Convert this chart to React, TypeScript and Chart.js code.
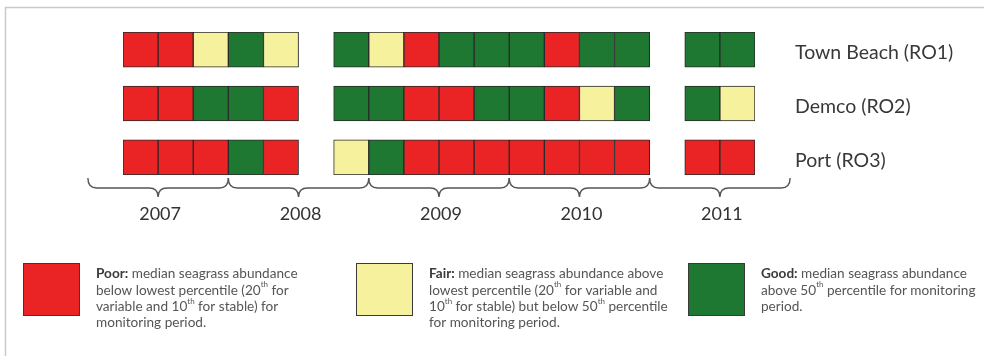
import React, { useEffect, useRef } from 'react';
import { Chart, registerables } from 'chart.js';

Chart.register(...registerables);

// ---------- DATA ----------
const periods = ['1', '2', '3', '4', '5', '6', '7', '8', '9', '10', '11', '12', '13', '14', '15', '16', '17', '18'];
const sites = ['Town Beach (RO1)', 'Demco (RO2)', 'Port (RO3)'];
// P = poor, F = fair, G = good, null = no survey
const townBeach = ['P', 'P', 'F', 'G', 'F', null, 'G', 'F', 'P', 'G', 'G', 'G', 'P', 'G', 'G', null, 'G', 'G'];
const demco = ['P', 'P', 'G', 'G', 'P', null, 'G', 'G', 'P', 'P', 'G', 'G', 'P', 'F', 'G', null, 'G', 'F'];
const port = ['P', 'P', 'P', 'G', 'P', null, 'F', 'G', 'P', 'P', 'P', 'P', 'P', 'P', 'P', null, 'P', 'P'];
const siteStatus = [townBeach, demco, port];

const years = ['2007', '2008', '2009', '2010', '2011'];
const yearStart = [-1.5, 2.5, 6.5, 10.5, 14.5];
const yearEnd = [2.5, 6.5, 10.5, 14.5, 18.5];

const legendKeys = ['P', 'F', 'G'];
const legendTitles = ['Poor:', 'Fair:', 'Good:'];
const poorLines = [
  ' median seagrass abundance',
  'below lowest percentile (20^th for',
  'variable and 10^th for stable) for',
  'monitoring period.',
];
const fairLines = [
  ' median seagrass abundance above',
  'lowest percentile (20^th for variable and',
  '10^th for stable) but below 50^th percentile',
  'for monitoring period.',
];
const goodLines = [
  ' median seagrass abundance',
  'above 50^th percentile for monitoring',
  'period.',
];
const legendLines = [poorLines, fairLines, goodLines];

// ---------- STYLE ----------
const COLORS: Record<string, string> = { P: '#ea2325', F: '#f6f19d', G: '#1e7832' };
const FONT = 'Lato, "Open Sans", sans-serif';
const CELL_H = 0.65;

function drawRichLine(ctx: CanvasRenderingContext2D, text: string, x: number, y: number, size: number, bold?: string) {
  let cx = x;
  if (bold) {
    ctx.font = `bold ${size}px ${FONT}`;
    ctx.fillStyle = '#3a3a3a';
    ctx.fillText(bold, cx, y);
    cx += ctx.measureText(bold).width;
  }
  ctx.fillStyle = '#555555';
  const parts = text.split('^th');
  parts.forEach((p, i) => {
    ctx.font = `${size}px ${FONT}`;
    ctx.fillText(p, cx, y);
    cx += ctx.measureText(p).width;
    if (i < parts.length - 1) {
      const s = Math.round(size * 0.6);
      ctx.font = `${s}px ${FONT}`;
      ctx.fillText('th', cx, y - size * 0.4);
      cx += ctx.measureText('th').width;
    }
  });
}

const decorPlugin = {
  id: 'decor',
  afterDraw(chart: any) {
    const ctx: CanvasRenderingContext2D = chart.ctx;
    const xs = chart.scales.x;
    const ys = chart.scales.y;
    const area = chart.chartArea;
    ctx.save();

    // frame
    ctx.strokeStyle = '#c9c9c9';
    ctx.lineWidth = 1.5;
    ctx.beginPath();
    ctx.moveTo(5.5, chart.height);
    ctx.lineTo(5.5, 7.5);
    ctx.lineTo(chart.width, 7.5);
    ctx.stroke();

    // row labels
    ctx.textBaseline = 'middle';
    ctx.textAlign = 'left';
    ctx.fillStyle = '#383838';
    ctx.font = `19.5px ${FONT}`;
    sites.forEach((s, k) => {
      const y = (ys.getPixelForValue(k) + ys.getPixelForValue(k + CELL_H)) / 2;
      ctx.fillText(s, area.right + 40, y + 3);
    });

    // braces + years
    const yt = area.bottom + 3;
    const yl = yt + 10;
    const yp = yl + 9;
    const r = 9;
    ctx.strokeStyle = '#555';
    ctx.lineWidth = 1.4;
    years.forEach((yr, i) => {
      const x0 = xs.getPixelForValue(yearStart[i]);
      const x1 = xs.getPixelForValue(yearEnd[i]);
      const xm = (x0 + x1) / 2;
      ctx.beginPath();
      ctx.moveTo(x0, yt);
      ctx.quadraticCurveTo(x0, yl, x0 + r, yl);
      ctx.lineTo(xm - r, yl);
      ctx.quadraticCurveTo(xm, yl, xm, yp);
      ctx.quadraticCurveTo(xm, yl, xm + r, yl);
      ctx.lineTo(x1 - r, yl);
      ctx.quadraticCurveTo(x1, yl, x1, yt);
      ctx.stroke();
      ctx.fillStyle = '#333';
      ctx.font = `18px ${FONT}`;
      ctx.textAlign = 'center';
      ctx.fillText(yr, xm + 2, 214);
    });

    // legend
    const boxX = [23, 356, 688];
    const boxY = 263;
    ctx.textAlign = 'left';
    legendKeys.forEach((k, i) => {
      ctx.fillStyle = COLORS[k];
      ctx.fillRect(boxX[i], boxY, 57, 53);
      ctx.strokeStyle = '#3a3a3a';
      ctx.lineWidth = 1;
      ctx.strokeRect(boxX[i] + 0.5, boxY + 0.5, 56, 52);
      legendLines[i].forEach((ln, j) => {
        drawRichLine(ctx, ln, boxX[i] + 73, 274 + j * 16.3, 13.6, j === 0 ? legendTitles[i] : undefined);
      });
    });
    ctx.restore();
  },
};

export default function App() {
  const ref = useRef<HTMLCanvasElement>(null);
  useEffect(() => {
    if (!ref.current) return;
    const datasets = siteStatus.map((row, k) => ({
      label: sites[k],
      data: row.map((s) => (s ? [k, k + CELL_H] : null)),
      backgroundColor: row.map((s) => (s ? COLORS[s] : 'transparent')),
      borderColor: '#2a2a2a',
      borderWidth: 1,
      borderSkipped: false,
      grouped: false,
      barPercentage: 1,
      categoryPercentage: 1,
    }));
    const chart = new Chart(ref.current, {
      type: 'bar',
      data: { labels: periods, datasets: datasets as any },
      options: {
        animation: false,
        responsive: false,
        maintainAspectRatio: false,
        layout: { padding: { left: 123, right: 229, top: 32, bottom: 181 } },
        plugins: { legend: { display: false }, tooltip: { enabled: false } },
        scales: {
          x: { type: 'category', display: false, offset: true },
          y: { type: 'linear', display: false, reverse: true, min: 0, max: 2 + CELL_H },
        },
      },
      plugins: [decorPlugin],
    });
    return () => chart.destroy();
  }, []);
  return (
    <div style={{ position: 'absolute', left: 0, top: 0, width: 984, height: 356, background: '#fff' }}>
      <canvas ref={ref} width={984} height={356} style={{ width: 984, height: 356, display: 'block' }} />
    </div>
  );
}
